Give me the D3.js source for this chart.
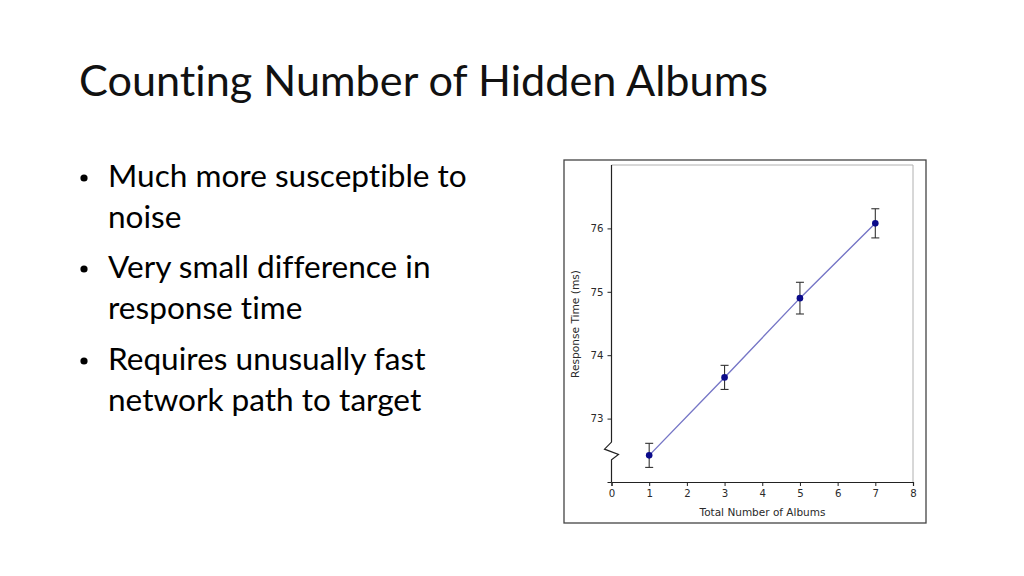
<!DOCTYPE html>
<html lang="en">
<head>
<meta charset="UTF-8" />
<script src="https://d3js.org/d3.v7.min.js"></script>
<style>
    body { margin: 0; background: #fff; }
    svg { display: block; }
    text { font-variant-ligatures: none; }
</style>
</head>
<body>
<svg></svg>
<script>
    // data
    let albums = [1, 3, 5, 7];
    let responseMs = [72.42, 73.65, 74.90, 76.08];
    let errorMs = [0.19, 0.19, 0.25, 0.23];
    let xTicks = [0, 1, 2, 3, 4, 5, 6, 7, 8];
    let yTicks = [73, 74, 75, 76];
    let bullets = [
        ["Much more susceptible to", "noise"],
        ["Very small difference in", "response time"],
        ["Requires unusually fast", "network path to target"]
    ];

    let width = 1024, height = 576;
    let svg = d3.select("svg").attr("width", width).attr("height", height);

    // fit a text element to a target width by adjusting its font size
    function fitWidth(sel, target) {
        let w = sel.node().getComputedTextLength();
        let fs = parseFloat(sel.attr("font-size"));
        sel.attr("font-size", fs * target / w);
    }

    let slideFont = "Lato, 'Open Sans', sans-serif";

    let title = svg.append("text")
        .attr("x", 79).attr("y", 96)
        .attr("font-family", slideFont)
        .attr("font-size", 40)
        .attr("fill", "#111")
        .text("Counting Number of Hidden Albums");
    fitWidth(title, 689);

    // bullets
    let baseY = [187, 278, 370];
    let bulletSize = null;
    bullets.forEach((lines, i) => {
        svg.append("circle")
            .attr("cx", 84).attr("cy", baseY[i] - 9)
            .attr("r", 3.6).attr("fill", "#000");
        lines.forEach((t, j) => {
            let txt = svg.append("text")
                .attr("x", 108).attr("y", baseY[i] + j * 41)
                .attr("font-family", slideFont)
                .attr("font-size", bulletSize || 28)
                .attr("fill", "#000")
                .text(t);
            if (!bulletSize) {
                fitWidth(txt, 359);
                bulletSize = parseFloat(txt.attr("font-size"));
            }
        });
    });

    // chart
    svg.append("rect")
        .attr("x", 564).attr("y", 160)
        .attr("width", 362).attr("height", 363)
        .attr("fill", "#fff")
        .attr("stroke", "#444").attr("stroke-width", 1.3);

    let pLeft = 611.5, pRight = 913, pTop = 165, pBottom = 482;
    let x = d3.scaleLinear().domain([0, 8]).range([pLeft, pRight]);
    let y = d3.scaleLinear().domain([72, 77]).range([pBottom, pTop]);

    let g = svg.append("g");

    // light frame top and right
    g.append("path")
        .attr("d", `M${pLeft},${pTop}H${pRight}V${pBottom}`)
        .attr("fill", "none")
        .attr("stroke", "#b0b0b0").attr("stroke-width", 1);

    let axisFont = "'DejaVu Sans', sans-serif";
    let tickSize = 10.2;

    let xAxis = g.append("g")
        .attr("transform", `translate(0,${pBottom})`)
        .call(d3.axisBottom(x).tickValues(xTicks).tickSize(4).tickPadding(4));
    xAxis.select(".domain").attr("stroke", "#222").attr("stroke-width", 1.2);
    xAxis.selectAll(".tick line").attr("stroke", "#222");
    xAxis.selectAll("text")
        .attr("font-family", axisFont).attr("font-size", tickSize).attr("fill", "#2a2a2a");

    // y axis with a break near the bottom
    let breakTop = 72.63, breakBot = 72.35;
    let yAxis = g.append("g")
        .attr("transform", `translate(${pLeft},0)`)
        .call(d3.axisLeft(y).tickValues(yTicks.concat([72])).tickSize(4).tickPadding(4)
            .tickFormat(d => d === 72 ? "" : d));
    yAxis.select(".domain").remove();
    yAxis.selectAll(".tick line").attr("stroke", "#222");
    yAxis.selectAll("text")
        .attr("font-family", axisFont).attr("font-size", tickSize).attr("fill", "#2a2a2a");

    let yb1 = y(breakTop), yb2 = y(breakBot);
    let spine = d3.path();
    spine.moveTo(pLeft, pTop);
    spine.lineTo(pLeft, yb1);
    spine.lineTo(pLeft - 7, yb1 + (yb2 - yb1) * 0.4);
    spine.lineTo(pLeft + 7, yb1 + (yb2 - yb1) * 0.7);
    spine.lineTo(pLeft, yb2);
    spine.lineTo(pLeft, pBottom);
    g.append("path")
        .attr("d", spine.toString())
        .attr("fill", "none")
        .attr("stroke", "#222").attr("stroke-width", 1.2);

    // axis labels
    let xLabel = g.append("text")
        .attr("x", 762.5).attr("y", 515.5)
        .attr("text-anchor", "middle")
        .attr("font-family", axisFont).attr("font-size", 10).attr("fill", "#2a2a2a")
        .text("Total Number of Albums");
    fitWidth(xLabel, 126);
    let yLabel = g.append("text")
        .attr("transform", `translate(579,${(270 + 378) / 2}) rotate(-90)`)
        .attr("text-anchor", "middle")
        .attr("font-family", axisFont).attr("font-size", 10).attr("fill", "#2a2a2a")
        .text("Response Time (ms)");
    fitWidth(yLabel, 108);

    let pts = albums.map((a, i) => ({ x: a, y: responseMs[i], e: errorMs[i] }));

    g.append("path")
        .datum(pts)
        .attr("d", d3.line().x(d => x(d.x)).y(d => y(d.y)))
        .attr("fill", "none")
        .attr("stroke", "#7676c6").attr("stroke-width", 1.4);

    let eb = g.selectAll(".err").data(pts).enter().append("g").attr("class", "err");
    eb.append("line")
        .attr("x1", d => x(d.x)).attr("x2", d => x(d.x))
        .attr("y1", d => y(d.y + d.e)).attr("y2", d => y(d.y - d.e))
        .attr("stroke", "#333").attr("stroke-width", 1.1);
    [1, -1].forEach(s => {
        eb.append("line")
            .attr("x1", d => x(d.x) - 4).attr("x2", d => x(d.x) + 4)
            .attr("y1", d => y(d.y + s * d.e)).attr("y2", d => y(d.y + s * d.e))
            .attr("stroke", "#333").attr("stroke-width", 1.1);
    });

    g.selectAll(".pt").data(pts).enter().append("circle")
        .attr("class", "pt")
        .attr("cx", d => x(d.x)).attr("cy", d => y(d.y))
        .attr("r", 3.3)
        .attr("fill", "#0a0a8a");
</script>
</body>
</html>
